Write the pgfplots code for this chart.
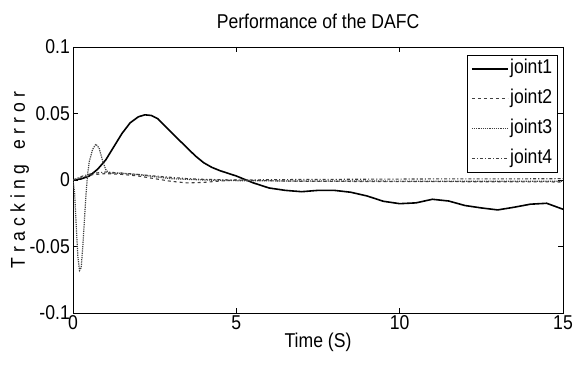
\documentclass[border=0pt]{standalone}
\usepackage{fontspec}
\setmainfont{Liberation Sans}[FakeStretch=0.88]
\usepackage{pgfplots}
\pgfplotsset{compat=1.18}

\pgfplotstableread{
t e
0 0
0.25 0.0008
0.5 0.003
0.75 0.008
1.0 0.015
1.25 0.025
1.5 0.035
1.75 0.043
2.0 0.0475
2.2 0.049
2.4 0.0485
2.6 0.046
2.8 0.041
3.0 0.036
3.25 0.030
3.5 0.024
3.75 0.018
4.0 0.013
4.25 0.0095
4.5 0.007
4.75 0.005
5.0 0.003
5.25 0.0005
5.5 -0.002
5.75 -0.004
6.0 -0.006
6.5 -0.0078
7.0 -0.0088
7.5 -0.0078
8.0 -0.0078
8.5 -0.0092
9.0 -0.012
9.5 -0.016
10.0 -0.0178
10.5 -0.0172
11.0 -0.0145
11.5 -0.0158
12.0 -0.0192
12.5 -0.021
13.0 -0.0225
13.5 -0.0205
14.0 -0.0182
14.5 -0.0175
15.0 -0.022
}\jointA

\pgfplotstableread{
t e
0 0
0.3 0.002
0.6 0.004
1.0 0.0048
1.5 0.0042
2.0 0.003
2.5 0.001
3.0 -0.001
3.5 -0.0022
4.0 -0.0018
4.5 -0.0008
5.0 0
6.0 -0.0005
7.0 -0.001
8.0 -0.001
9.0 -0.0012
10.0 -0.0012
11.0 -0.0012
12.0 -0.0013
13.0 -0.0013
14.0 -0.0014
15.0 -0.0015
}\jointB

\pgfplotstableread{
t e
0 0
0.05 -0.01
0.1 -0.035
0.15 -0.058
0.2 -0.068
0.25 -0.066
0.3 -0.05
0.35 -0.03
0.4 -0.01
0.45 0.005
0.5 0.014
0.6 0.023
0.7 0.027
0.8 0.024
0.9 0.015
1.0 0.008
1.1 0.005
1.5 0.005
2.0 0.004
3.0 0.001
4.0 0
5.0 -0.0005
7.0 -0.0008
9.0 -0.0008
11.0 -0.0009
13.0 -0.001
15.0 -0.001
}\jointC

\pgfplotstableread{
t e
0 0
0.3 0.003
0.6 0.005
1.0 0.006
1.5 0.0052
2.0 0.0042
2.5 0.003
3.0 0.002
3.5 0.001
4.0 0.0005
5.0 0
7.0 0.0004
9.0 0.0006
11.0 0.0008
13.0 0.0008
15.0 0.001
}\jointD

\begin{document}
\begin{tikzpicture}
\begin{axis}[
  name=ax,
  scale only axis,
  width=490pt, height=266pt,
  xmin=0, xmax=15, ymin=-0.1, ymax=0.1,
  xtick={0,5,10,15}, xticklabels={0,5,10,15},
  ytick={-0.1,-0.05,0,0.05,0.1}, yticklabels={-0.1,-0.05,0,0.05,0.1},
  tick align=inside, major tick length=5pt,
  axis line style={line width=0.8pt},
  every tick/.style={black, line width=0.6pt},
  font=\fontsize{20}{23}\selectfont,
  xticklabel style={anchor=base, inner sep=0pt, yshift=-17pt},
  yticklabel style={anchor=east, inner sep=0pt, xshift=-3pt},
  title={Performance of the DAFC},
  every axis title/.style={at={(axis description cs:0.5,1)}, anchor=base, yshift=18pt},
  xlabel={Time (S)},
  every axis x label/.style={at={(axis description cs:0.5,0)}, anchor=base, yshift=-35pt},
  ylabel={\addfontfeature{LetterSpace=26}Tracking\hspace{5pt} error},
  every axis y label/.style={at={(axis description cs:-0.098,0.5)}, rotate=90, anchor=base},
  legend style={at={(1,1)}, anchor=north east, xshift=-5pt, yshift=-8pt,
    draw=black, line width=0.6pt, inner xsep=4pt, inner ysep=3pt,
    row sep=9pt,
    nodes={inner sep=1.5pt, text height=14pt, text depth=4pt}},
  legend cell align=left,
  legend image code/.code={\draw[#1] (0pt,0pt) -- (36pt,0pt);},
]
\addplot[black, line width=1.6pt] table[x=t,y=e] {\jointA};
\addlegendentry{joint1}
\addplot[black!75, line width=1.1pt, dashed] table[x=t,y=e] {\jointB};
\addlegendentry{joint2}
\addplot[black!75, line width=1.2pt, densely dotted] table[x=t,y=e] {\jointC};
\addlegendentry{joint3}
\addplot[black!75, line width=1.1pt, dash dot] table[x=t,y=e] {\jointD};
\addlegendentry{joint4}
\end{axis}
\pgfresetboundingbox
\path[use as bounding box] ([xshift=-73pt,yshift=-63pt]ax.south west) rectangle ([xshift=11pt,yshift=47pt]ax.north east);
\end{tikzpicture}
\end{document}
